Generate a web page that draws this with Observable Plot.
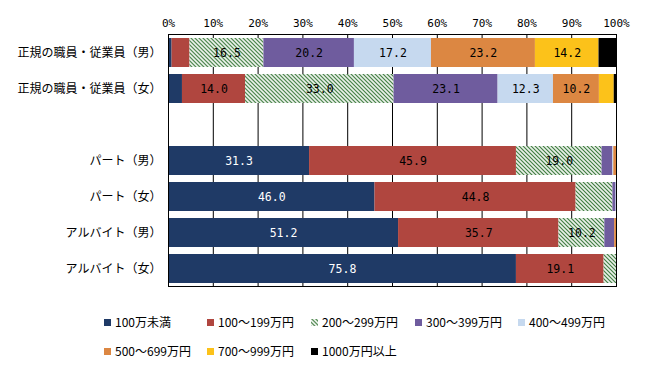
<!DOCTYPE html>
<html><head><meta charset="utf-8">
<script src="https://cdn.jsdelivr.net/npm/d3@7"></script>
<script src="https://cdn.jsdelivr.net/npm/@observablehq/plot@0.6"></script>
<style>
body{margin:0;background:#fff;}
#wrap{position:relative;width:645px;height:365px;font-family:"Noto Sans CJK JP",sans-serif;}
#wrap [aria-label^="y-axis"] text{font-family:"Noto Sans CJK JP",sans-serif;font-size:12px;}
#wrap [aria-label^="x-axis"] text{font-family:"DejaVu Sans Mono",monospace;font-size:11px;}
.lg{position:absolute;font-size:12px;line-height:12px;white-space:nowrap;display:flex;align-items:center;color:#000;}
.lg svg{margin-right:4px;}
</style>
</head><body>
<svg width="0" height="0" style="position:absolute">
<defs>
<pattern id="hatch" patternUnits="userSpaceOnUse" width="2.83" height="2.83" patternTransform="rotate(-45)">
<rect x="0" y="0" width="2.83" height="2.83" fill="#ffffff"></rect>
<rect x="0" y="0" width="1.2" height="2.83" fill="#3b7a3b"></rect>
</pattern>
</defs>
</svg>
<div id="wrap"></div>
<script>
const groups = ["正規の職員・従業員（男）","正規の職員・従業員（女）","パート（男）","パート（女）","アルバイト（男）","アルバイト（女）"];
const yDomain = [groups[0], groups[1], " ", groups[2], groups[3], groups[4], groups[5]];
const categories = ["100万未満","100～199万円","200～299万円","300～399万円","400～499万円","500～699万円","700～999万円","1000万円以上"];
const colors = ["#1f3a66","#b0463f","url(#hatch)","#6f5c9e","#c6d9ef","#dc8742","#fcc21a","#000000"];
const v_seiki_m = [0.8, 4.0, 16.5, 20.2, 17.2, 23.2, 14.2, 3.9];
const v_seiki_f = [3.1, 14.0, 33.0, 23.1, 12.3, 10.2, 3.3, 0.5];
const v_part_m = [31.3, 45.9, 19.0, 2.4, 0.2, 0.6, 0, 0];
const v_part_f = [46.0, 44.8, 8.2, 0.7, 0.1, 0, 0, 0];
const v_arb_m = [51.2, 35.7, 10.2, 2.2, 0, 0.4, 0, 0];
const v_arb_f = [75.8, 19.1, 2.7, 0, 0, 0, 0, 0];
const xTicks = [0,0.1,0.2,0.3,0.4,0.5,0.6,0.7,0.8,0.9,1];

const series = [v_seiki_m, v_seiki_f, v_part_m, v_part_f, v_arb_m, v_arb_f];
const data = [];
groups.forEach((g, gi) => categories.forEach((c, ci) => data.push({group: g, cat: c, value: series[gi][ci]})));

const txt = (white) => d => (d.value >= 10 && (d.cat === categories[0]) === white) ? d.value.toFixed(1) : "";

const plot = Plot.plot({
  width: 645,
  height: 300,
  marginLeft: 168,
  marginRight: 29,
  marginTop: 34,
  marginBottom: 14,
  style: {fontFamily: "Noto Sans CJK JP", fontSize: "12px", background: "white"},
  x: {domain: [0, 1], axis: "top", ticks: xTicks, tickFormat: d => Math.round(d * 100) + "%", tickSize: 0, tickPadding: 8, label: null},
  y: {domain: yDomain, paddingInner: 0.2, paddingOuter: 0.1, tickSize: 0, tickPadding: 7, label: null},
  color: {domain: categories, range: colors},
  marks: [
    Plot.ruleX(xTicks, {stroke: "black", strokeWidth: 1}),
    Plot.barX(data, {x: "value", y: "group", fill: "cat", offset: "normalize"}),
    Plot.frame({stroke: "black"}),
    Plot.text(data, Plot.stackX({x: "value", y: "group", offset: "normalize", text: txt(true), fill: "white", fontFamily: "DejaVu Sans Mono", fontSize: 11.5})),
    Plot.text(data, Plot.stackX({x: "value", y: "group", offset: "normalize", text: txt(false), fill: "black", fontFamily: "DejaVu Sans Mono", fontSize: 11.5}))
  ]
});
const wrap = document.getElementById("wrap");
wrap.appendChild(plot);

const colX = [104, 207, 311, 415, 518];
const rowY = [322, 351];
categories.forEach((c, i) => {
  const el = document.createElement("div");
  el.className = "lg";
  el.style.left = colX[i % 5] + "px";
  el.style.top = (rowY[Math.floor(i / 5)] - 6) + "px";
  el.innerHTML = `<svg width="7" height="7"><rect width="7" height="7" fill="${colors[i]}"></rect></svg><span>${c}</span>`;
  wrap.appendChild(el);
});
</script>
</body></html>
